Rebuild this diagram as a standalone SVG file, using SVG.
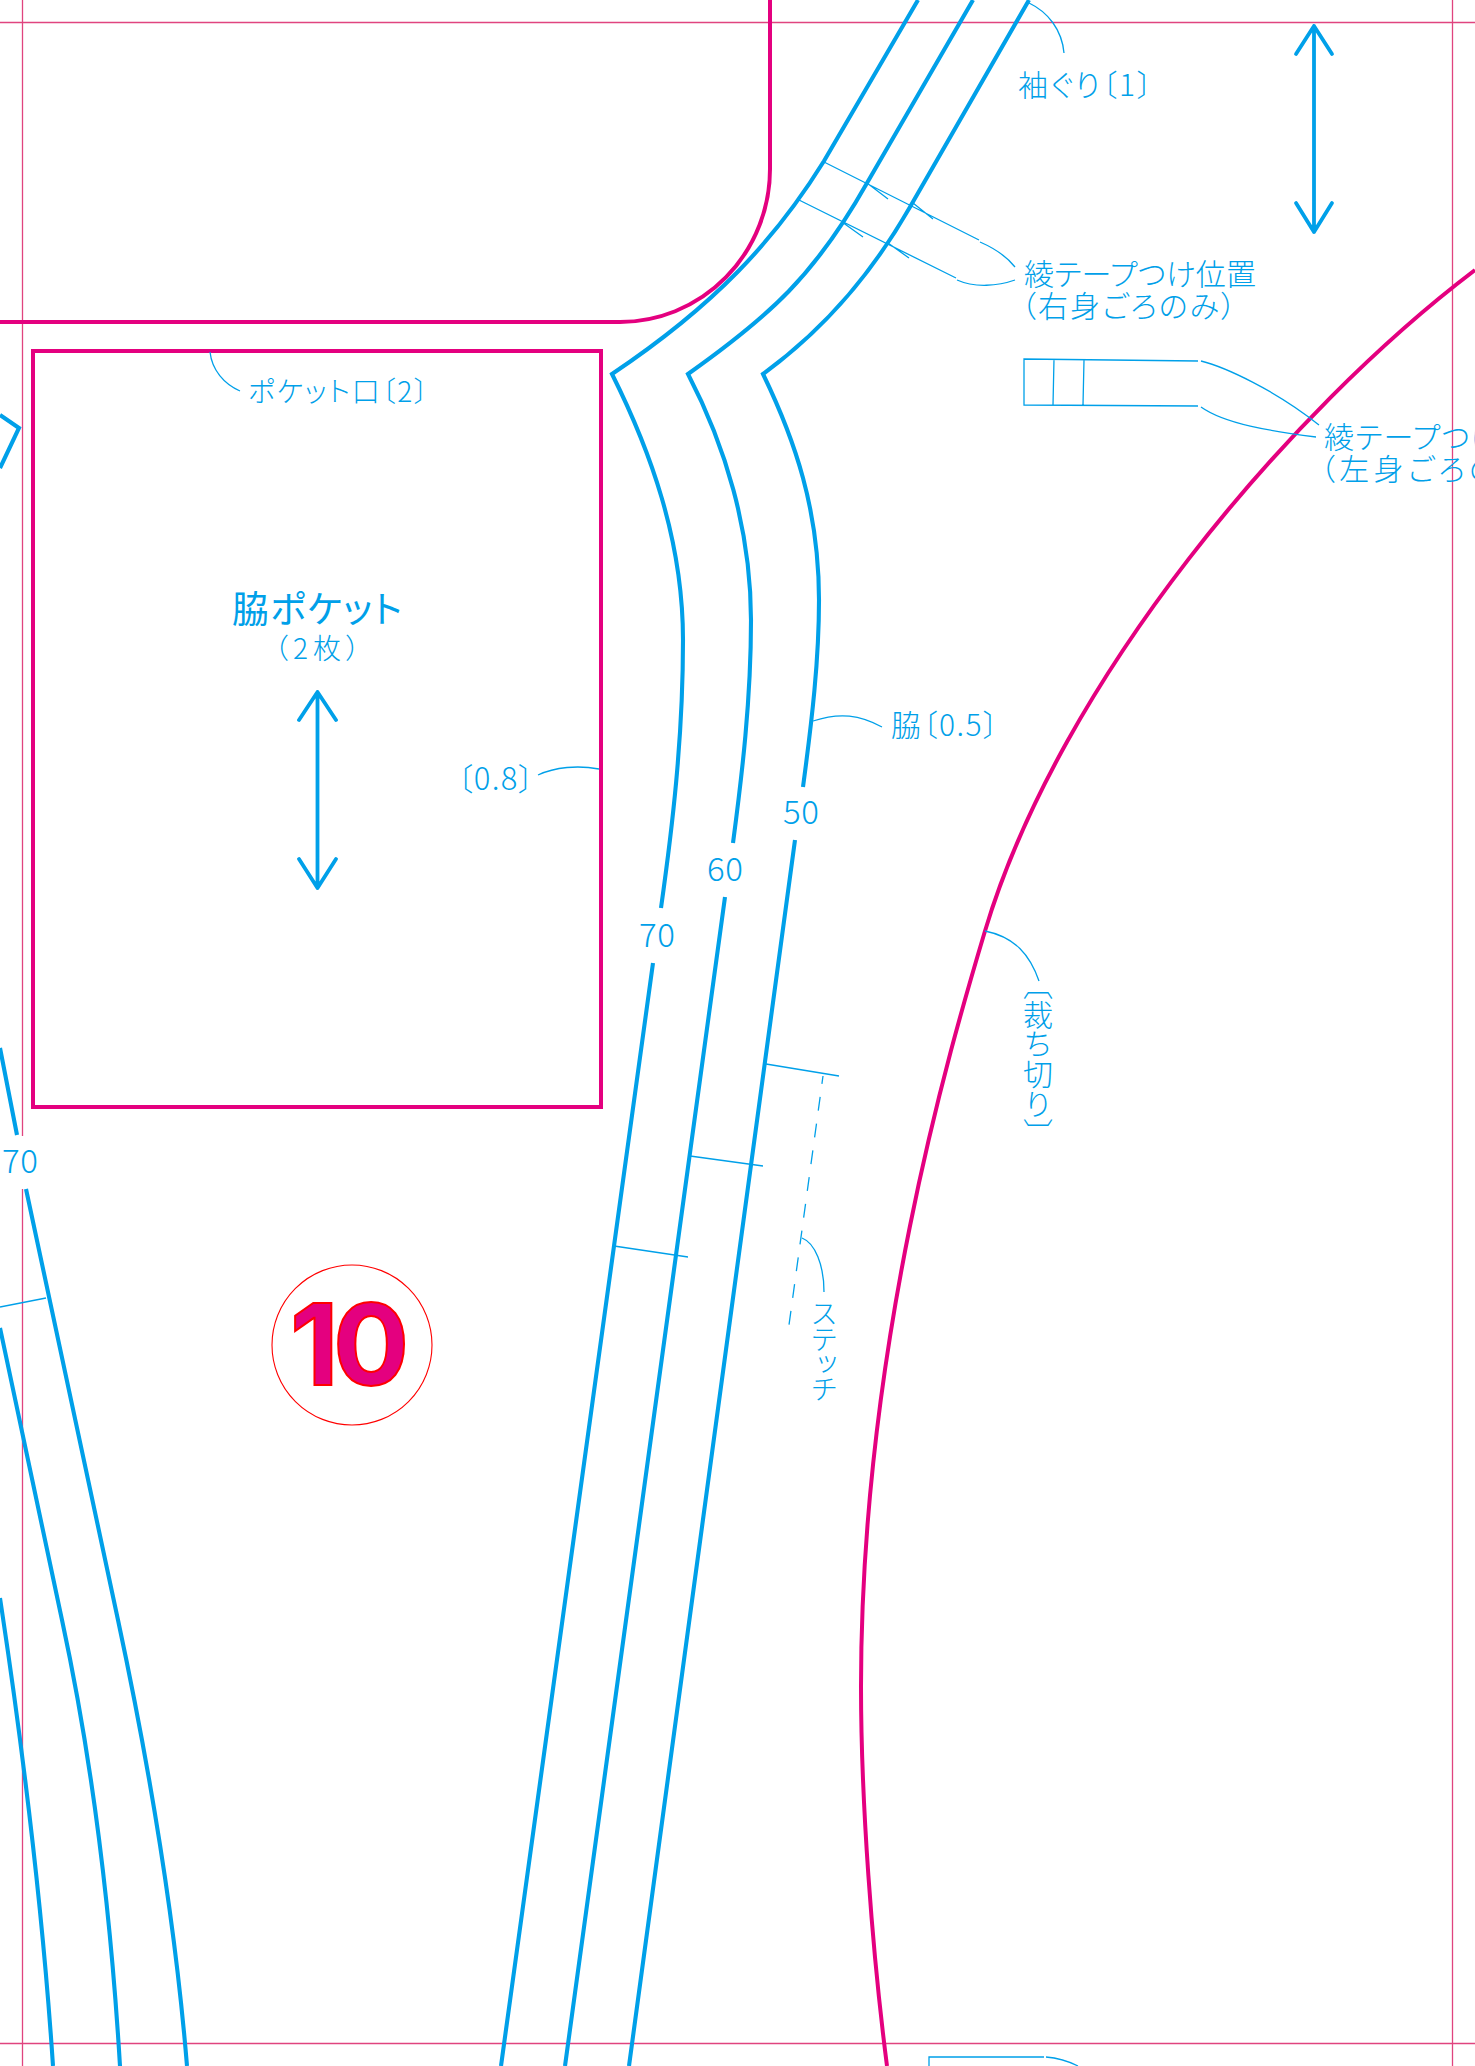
<svg xmlns="http://www.w3.org/2000/svg" width="1475" height="2066" viewBox="0 0 1475 2066">
<style>
.trim{fill:none;stroke:#e0447f;stroke-width:1.3}
.cut{fill:none;stroke:#e4007f;stroke-width:4}
.seam{fill:none;stroke:#00a0e9;stroke-width:4.100;stroke-linejoin:miter}
.grain{fill:none;stroke:#00a0e9;stroke-width:3.800;stroke-linecap:round;stroke-linejoin:round}
.thin{fill:none;stroke:#00a0e9;stroke-width:1.3}
text{font-family:"Noto Sans CJK JP","Noto Sans",sans-serif;font-weight:300;fill:#00a0e9;font-feature-settings:"palt"}
.v{writing-mode:vertical-rl;font-feature-settings:"vpal"}
</style>
<rect width="1475" height="2066" fill="#fff"/>
<g id="trim-marks">
<path class="trim" d="M0 22.500H1475M0 2043.500H1475M22.500 0V1136M22.500 1189V2066M1452.500 0V2066"/>
</g>
<g id="cut-lines">
<path class="cut" d="M770 0V169A150 153 0 0 1 620 322H0"/>
<path class="cut" d="M1475 270C1290 410 1060 680 985 931C950 1048 861 1350 861 1687C861 1800 872 1950 887 2066"/>
</g>
<g id="pocket">
<rect class="cut" x="33" y="351" width="568" height="756"/>
<text x="232" y="623" font-size="37" textLength="170" style="font-weight:400">脇ポケット</text>
<text x="274" y="659" font-size="28" textLength="86">（2枚）</text>
<path class="grain" d="M317.500 692V888M299 720L317.500 692L336 720M299 859L317.500 888L336 859"/>
<text x="248" y="402" font-size="28" textLength="180">ポケット口〔2〕</text>
<text x="457" y="790" font-size="31" textLength="77">〔0.8〕</text>
</g>
<g id="seam-50">
<path class="seam" d="M1029 0L910 207C875 268 830 325 763 374C795 440 819 510 819 600C819 660 812 720 803 787M795 840L629 2066"/>
<text x="783" y="824" font-size="33" textLength="36">50</text>
</g>
<g id="seam-60">
<path class="seam" d="M973 0L867 183C815 275 770 316 688 374C725 445 751 530 751 620C751 700 742 775 733 843M725 897L565 2066"/>
<text x="707" y="881" font-size="33" textLength="36">60</text>
</g>
<g id="seam-70">
<path class="seam" d="M918 0L824 161C775 240 715 305 612 374C650 450 683 540 683 640C683 740 672 830 661 908M653 963L501 2066"/>
<text x="639" y="947" font-size="33" textLength="36">70</text>
</g>
<g id="left-piece">
<path class="seam" d="M0 415L19 428L0 468"/>
<path class="seam" d="M0 1048L17 1135M26 1189L118 1620C150 1770 175 1920 187 2066"/>
<path class="seam" d="M0 1328L62 1620C90 1750 110 1900 120 2066"/>
<path class="seam" d="M0 1598C20 1730 42 1900 53 2066"/>
<text x="2" y="1173" font-size="33" textLength="36">70</text>
</g>
<g id="grain-arrow">
<path class="grain" d="M1314 26V232M1296 54L1314 26L1332 54M1296 203L1314 232L1332 203"/>
</g>
<g id="tape">
<path class="thin" d="M1198 361L1024 359V405L1198 406M1054 359L1053 405M1084 360L1083 405"/>
<text x="1024" y="285" font-size="30" textLength="232">綾テープつけ位置</text>
<text x="1021" y="317" font-size="30" textLength="215">（右身ごろのみ）</text>
<text x="1324" y="448" font-size="30" textLength="176">綾テープつけ</text>
<text x="1320" y="480" font-size="30" textLength="178">（左身ごろの</text>
</g>
<g id="labels">
<text x="1018" y="96" font-size="30" textLength="134">袖ぐり〔1〕</text>
<text x="891" y="736" font-size="30" textLength="107">脇〔0.5〕</text>
<text class="v" x="1038" y="984" font-size="30" letter-spacing="1">〔裁ち切り〕</text>
<text class="v" x="824" y="1300" font-size="28" letter-spacing="0.5">ステッチ</text>
</g>
<g id="piece-number">
<circle cx="352" cy="1345" r="80" fill="none" stroke="#ff0000" stroke-width="1.1"/>
<text x="290 333" y="1385" font-size="113" style="font-family:Inter,'Liberation Sans',sans-serif;font-weight:700;fill:#e4007f;stroke:#ff0000;stroke-width:2;font-feature-settings:normal">10</text>
</g>
<g id="connectors">
<path class="thin" d="M1029 3C1048 12 1062 30 1064 53"/>
<path class="thin" d="M824 162L979 240M799 200L956 278M867 183L888 199M913 203L933 219M842 222L863 237M888 243L909 258"/>
<path class="thin" d="M980 242C996 249 1008 258 1015 267M957 280C975 288 998 286 1015 280"/>
<path class="thin" d="M1201 361C1225 367 1275 390 1319 425M1201 407C1225 424 1270 431 1316 437"/>
<path class="thin" d="M210 352C212 370 224 384 240 391"/>
<path class="thin" d="M538 775C555 767 578 765 599 769"/>
<path class="thin" d="M813 721C840 712 860 715 882 727"/>
<path class="thin" d="M766 1064L839 1076M690 1156L763 1166M614 1246L688 1257"/>
<path class="thin" d="M823 1076L789 1325" stroke-dasharray="14 13" stroke-dashoffset="6"/>
<path class="thin" d="M802 1238C815 1243 824 1265 824 1292"/>
<path class="thin" d="M985 931C1015 937 1030 955 1039 981"/>
<path class="thin" d="M0 1307L46 1298"/>
<path class="thin" d="M929 2066V2057H1044M1046 2057C1058 2058 1068 2061 1078 2066"/>
</g>
</svg>
